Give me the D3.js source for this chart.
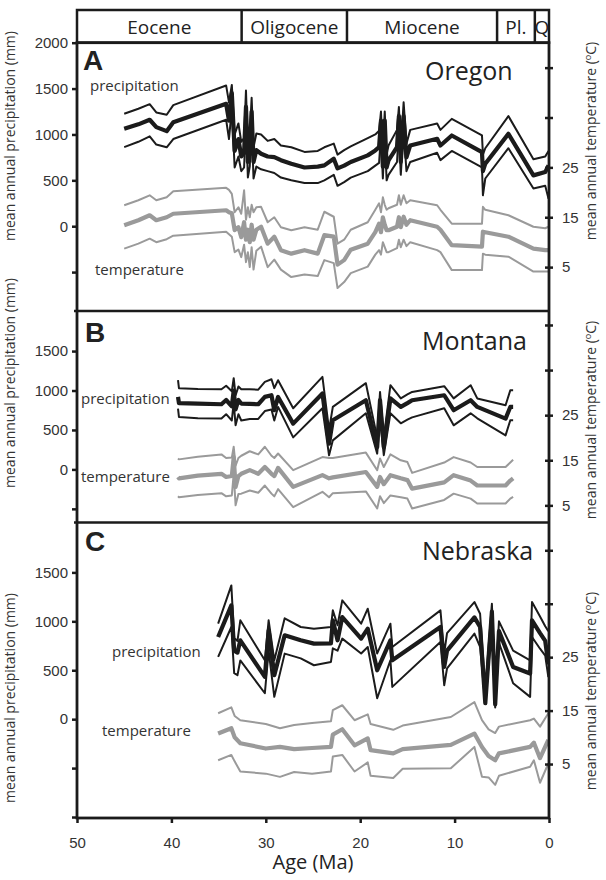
<!DOCTYPE html>
<html><head><meta charset="utf-8">
<script src="https://cdn.jsdelivr.net/npm/d3@7"></script>
<style>body{margin:0;background:#fff}svg{display:block}</style>
</head><body><svg id="c" width="606" height="880"></svg>
<script>
// ---------------- DATA ----------------
const xTickValues = [50, 40, 30, 20, 10, 0];
const epochNames = ["Eocene", "Oligocene", "Miocene", "Pl.", "Q"];
const epochBounds = [50, 32.56, 21.4, 5.5, 1.5, 0];

// Oregon
const oregonAge = [45.0,43.5,42.3,41.6,40.5,39.8,34.2,33.9,33.6,33.3,32.9,32.6,32.3,32.1,31.9,31.7,31.5,31.3,31.0,30.5,29.8,29.1,28.4,27.3,25.9,24.5,23.8,22.8,22.4,21.7,21.0,19.2,18.4,18.0,17.8,17.6,17.4,17.2,17.0,16.1,15.9,15.7,15.4,15.1,14.7,11.85,11.5,10.3,7.1,7.0,6.75,4.3,1.65,0.4,0.05];
const oregonPrecip   = [1062,1110,1160,1080,1036,1134,1334,1150,1450,820,950,760,800,1300,700,820,1250,700,830,790,760,753,720,681,640,650,663,736,630,660,700,772,826,862,1150,650,1150,640,717,862,1200,700,1200,750,880,953,880,989,808,600,681,1007,554,590,663];
const oregonPrecipHi = [1225,1280,1330,1240,1215,1320,1533,1350,1540,1000,1120,920,960,1480,850,990,1400,860,1010,1000,930,950,880,860,810,820,860,900,780,830,870,960,1000,1040,1250,800,1250,780,880,1050,1300,850,1350,900,1050,1120,1050,1170,990,780,850,1200,730,760,820];
const oregonPrecipLo = [862,920,980,890,860,950,1160,950,1280,640,760,600,640,1150,530,650,1100,520,650,620,600,580,530,500,470,470,500,560,440,480,530,600,660,690,1000,520,980,500,560,700,1050,560,1050,600,700,800,720,820,640,337,520,850,410,440,300];
const oregonTemp   = [13.4,14.4,15.4,14.4,15.0,15.7,16.4,16.0,15.8,12.4,13.0,11.0,14.0,10.5,12.5,10.0,13.5,10.5,12.5,13.1,9.7,11.1,8.4,7.7,8.4,7.7,11.4,11.1,5.5,6.4,8.5,9.7,12.0,13.7,12.0,15.0,13.5,12.4,12.4,13.1,15.0,13.0,15.1,13.5,14.4,13.1,12.5,9.4,9.1,12.1,12.0,11.1,8.7,8.4,8.4];
const oregonTempHi = [17.4,18.4,19.4,18.4,19.0,20.2,20.9,20.5,19.7,16.0,17.0,15.7,20.4,14.5,17.0,15.0,17.5,16.0,17.0,17.1,14.0,15.0,13.0,12.4,13.0,12.5,16.1,15.1,9.7,10.5,12.5,14.0,16.5,17.8,16.0,19.0,17.5,16.5,16.8,17.5,19.4,17.5,19.4,17.8,18.4,17.4,16.5,13.7,13.7,17.1,16.5,15.4,13.1,12.8,13.1];
const oregonTempLo = [8.7,9.7,10.7,10.0,10.6,11.3,12.1,11.6,11.1,8.0,8.5,7.0,9.5,6.0,8.0,5.0,9.0,4.5,8.3,9.1,5.0,6.5,4.5,3.0,3.5,3.2,6.4,5.8,0.8,2.0,3.8,5.1,7.5,8.4,7.5,10.0,9.0,8.0,8.0,8.8,10.5,9.0,10.5,9.2,10.0,8.4,8.0,4.4,4.4,7.7,7.5,7.1,4.1,4.1,4.1];

// Montana
const montanaAge = [39.3,39.2,37.2,34.7,34.2,33.6,33.4,33.2,32.9,32.6,31.7,30.8,30.1,29.4,29.1,28.7,27.1,24.0,23.3,22.9,19.4,18.2,17.9,17.5,16.8,15.7,15.0,14.5,11.1,10.1,8.3,7.6,4.6,4.1,3.8];
const montanaPrecip   = [919,840,835,826,880,800,1000,760,880,835,830,826,919,940,750,919,580,962,326,623,877,283,877,283,900,792,840,877,940,750,877,792,644,792,792];
const montanaPrecipHi = [1131,1029,1020,1016,1060,990,1156,940,1050,1016,1016,1010,1110,1143,1030,1131,775,1173,500,792,1093,400,982,400,1067,900,950,982,1055,900,1067,900,813,1004,1004];
const montanaPrecipLo = [771,665,650,644,700,620,850,560,700,620,640,640,740,760,620,792,406,775,178,368,711,200,650,180,711,584,630,660,775,559,711,648,432,623,623];
const montanaTemp   = [11.3,11.0,11.6,12.0,11.3,11.5,15.7,9.1,11.5,12.0,12.8,12.0,13.5,12.0,11.5,13.3,9.1,11.7,11.0,11.2,12.4,9.1,11.3,9.7,11.7,11.0,10.6,8.7,10.1,11.7,10.5,9.4,9.4,10.5,11.0];
const montanaTempHi = [15.4,15.2,15.8,16.3,15.5,15.6,18.0,13.8,15.5,16.0,17.0,16.3,18.0,16.0,15.5,16.5,12.8,15.7,15.5,15.5,16.7,12.8,15.4,13.5,16.3,15.0,14.6,12.2,14.5,15.7,14.5,13.5,13.5,14.5,15.1];
const montanaTempLo = [7.0,6.8,7.3,7.7,7.0,7.2,12.0,5.0,7.5,7.6,8.3,7.8,9.4,7.6,7.0,8.6,4.6,8.0,6.8,7.7,8.1,4.3,7.0,5.5,7.2,6.8,6.5,4.3,6.2,7.6,6.5,5.4,5.4,6.5,6.9];

// Nebraska
const nebraskaPrecipAge = [35.05,33.65,33.35,33.0,32.7,30.1,29.7,29.1,28.0,26.3,24.9,23.1,22.9,22.4,21.9,19.9,19.2,18.2,16.8,16.6,11.5,11.1,10.8,7.9,7.3,6.75,6.05,5.7,5.3,3.8,2.0,1.8,0.95,0.4,0.07];
const nebraskaPrecip   = [840,1163,700,680,806,432,908,449,857,806,772,775,1010,806,1044,823,925,500,806,602,942,534,700,1040,942,163,1100,150,900,534,466,1010,880,800,560];
const nebraskaPrecipHi = [976,1367,830,800,1010,602,1010,602,1031,942,925,942,1112,960,1214,976,1129,672,976,738,1112,672,880,1197,1078,300,1180,300,1000,700,602,1197,1050,950,900];
const nebraskaPrecipLo = [636,942,470,450,600,265,700,228,670,621,551,585,724,700,823,672,738,214,602,330,789,347,520,874,738,160,950,120,780,367,228,840,720,650,430];
const nebraskaTempAge = [35.05,33.65,33.3,32.7,30.0,28.5,27.0,25.1,23.1,22.9,21.9,20.6,19.2,18.9,16.5,15.5,10.4,7.9,7.1,6.4,5.7,5.3,2.0,1.6,0.95,0.07];
const nebraskaTemp   = [10.7,11.7,10.0,8.9,7.9,8.2,7.8,8.0,8.2,10.5,11.5,8.5,9.8,7.6,7.0,7.8,8.6,10.7,8.2,6.5,5.7,7.0,8.2,9.0,6.1,9.5];
const nebraskaTempHi = [14.5,15.6,14.0,13.2,12.5,11.7,12.3,12.7,13.0,15.1,16.0,13.2,14.3,12.5,11.4,12.2,13.8,16.6,13.2,11.5,10.8,12.0,13.2,13.5,12.0,14.5];
const nebraskaTempLo = [5.7,6.7,5.5,3.6,3.2,2.6,3.5,3.2,3.6,6.4,6.7,3.6,5.3,2.8,2.4,4.1,4.2,8.2,2.6,2.5,1.1,2.8,4.5,5.7,1.5,5.1];

// ---------------- LAYOUT ----------------
const W = 606, H = 880;
const L = 77, R = 549, TOP = 42.7, BOT = 818, HEAD_TOP = 10;
const BLACK = "#1b1b1b", GRAY = "#9a9a9a";
const SANS = "'Open Sans', 'Noto Sans', sans-serif";
const ARIAL = "'Liberation Sans', Arial, sans-serif";

const panels = [
  {letter:"A", name:"Oregon", top:TOP, bottom:311, pDom:[-924,2000], tDom:[-3.8,50],
   pTicks:[-500,0,500,1000,1500,2000], tTicks:[5,15,25,35,45],
   pAge:oregonAge, p:oregonPrecip, pHi:oregonPrecipHi, pLo:oregonPrecipLo,
   tAge:oregonAge, t:oregonTemp, tHi:oregonTempHi, tLo:oregonTempLo,
   lay:{lx:83, ly:70, nx:425, ny:80, px:90, py:91, tx:95, ty:275, lc:136, rc:141}},
  {letter:"B", name:"Montana", top:311, bottom:522.5, pDom:[-673,2008], tDom:[1.2,48.1],
   pTicks:[-500,0,500,1000,1500], tTicks:[5,15,25,35,45],
   pAge:montanaAge, p:montanaPrecip, pHi:montanaPrecipHi, pLo:montanaPrecipLo,
   tAge:montanaAge, t:montanaTemp, tHi:montanaTempHi, tLo:montanaTempLo,
   lay:{lx:85, ly:342, nx:422, ny:350, px:81, py:404, tx:81, ty:482, lc:383, rc:420}},
  {letter:"C", name:"Nebraska", top:522.5, bottom:BOT, pDom:[-1010,2010], tDom:[-5.1,50.2],
   pTicks:[-1000,-500,0,500,1000,1500], tTicks:[5,15,25,35,45],
   pAge:nebraskaPrecipAge, p:nebraskaPrecip, pHi:nebraskaPrecipHi, pLo:nebraskaPrecipLo,
   tAge:nebraskaTempAge, t:nebraskaTemp, tHi:nebraskaTempHi, tLo:nebraskaTempLo,
   lay:{lx:85, ly:551, nx:422, ny:560, px:112, py:657, tx:102, ty:736, lc:698, rc:691}}
];

const svg = d3.select("#c");
svg.append("rect").attr("width", W).attr("height", H).attr("fill", "#fff");

const x = d3.scaleLinear().domain([50, 0]).range([L, R]);

// ---------------- HEADER ----------------
const head = svg.append("g");
head.append("rect").attr("x", L).attr("y", HEAD_TOP).attr("width", R - L).attr("height", TOP - HEAD_TOP)
  .attr("fill", "none").attr("stroke", BLACK).attr("stroke-width", 2.5);
epochBounds.slice(1, -1).forEach(b => {
  head.append("line").attr("x1", x(b)).attr("x2", x(b)).attr("y1", HEAD_TOP).attr("y2", TOP)
    .attr("stroke", BLACK).attr("stroke-width", 2.5);
});
epochNames.forEach((n, i) => {
  head.append("text").attr("x", (x(epochBounds[i]) + x(epochBounds[i + 1])) / 2).attr("y", 34)
    .attr("text-anchor", "middle").attr("font-family", SANS).attr("font-size", 19).attr("fill", "#222").text(n);
});

// ---------------- PANELS ----------------
panels.forEach(pn => {
  const yP = d3.scaleLinear().domain(pn.pDom).range([pn.bottom, pn.top]);
  const yT = d3.scaleLinear().domain(pn.tDom).range([pn.bottom, pn.top]);
  const g = svg.append("g");
  const clipId = "clip" + pn.letter;
  svg.append("clipPath").attr("id", clipId).append("rect")
    .attr("x", L).attr("y", pn.top).attr("width", R - L).attr("height", pn.bottom - pn.top);

  const lines = g.append("g").attr("clip-path", `url(#${clipId})`);
  const mk = (ages, vals, ys) => d3.line().x((d, i) => x(ages[i])).y(d => ys(d))(vals);

  // temperature (right axis)
  [[pn.tHi, 2], [pn.tLo, 2], [pn.t, 4.2]].forEach(([arr, w]) => {
    lines.append("path").attr("d", mk(pn.tAge, arr, yT)).attr("fill", "none")
      .attr("stroke", GRAY).attr("stroke-width", w).attr("stroke-linejoin", "round");
  });
  // precipitation (left axis)
  [[pn.pHi, 2], [pn.pLo, 2], [pn.p, 4.2]].forEach(([arr, w]) => {
    lines.append("path").attr("d", mk(pn.pAge, arr, yP)).attr("fill", "none")
      .attr("stroke", BLACK).attr("stroke-width", w).attr("stroke-linejoin", "round");
  });

  // left axis
  const la = g.append("g").attr("transform", `translate(${L},0)`)
    .call(d3.axisLeft(yP).tickValues(pn.pTicks).tickSize(5).tickPadding(4)
      .tickFormat(d => d >= 0 ? d : ""));
  la.select(".domain").remove();
  la.selectAll(".tick line").attr("stroke", BLACK).attr("stroke-width", 2.5);
  la.selectAll(".tick text").attr("font-family", ARIAL).attr("font-size", 15).attr("fill", "#333");

  // right axis (ticks crossing the axis)
  const ra = g.append("g").attr("transform", `translate(${R},0)`)
    .call(d3.axisRight(yT).tickValues(pn.tTicks).tickSize(4).tickPadding(9)
      .tickFormat(d => d <= 25 ? d : ""));
  ra.select(".domain").remove();
  ra.selectAll(".tick line").attr("x1", -4).attr("stroke", BLACK).attr("stroke-width", 2.5);
  ra.selectAll(".tick text").attr("font-family", ARIAL).attr("font-size", 15).attr("fill", "#333");

  // labels
  const ly = pn.lay;
  g.append("text").attr("x", ly.lx).attr("y", ly.ly).attr("font-family", ARIAL).attr("font-weight", "bold")
    .attr("font-size", 28).attr("fill", "#222").text(pn.letter);
  g.append("text").attr("x", ly.nx).attr("y", ly.ny).attr("font-family", SANS).attr("font-size", 25)
    .attr("fill", "#222").text(pn.name);
  g.append("text").attr("x", ly.px).attr("y", ly.py).attr("font-family", SANS).attr("font-size", 15)
    .attr("fill", "#333").text("precipitation");
  g.append("text").attr("x", ly.tx).attr("y", ly.ty).attr("font-family", SANS).attr("font-size", 15)
    .attr("fill", "#333").text("temperature");

  svg.append("text").attr("transform", `translate(15,${ly.lc}) rotate(-90)`).attr("text-anchor", "middle")
    .attr("font-family", SANS).attr("font-size", 14).attr("fill", "#333")
    .text("mean annual precipitation (mm)");
  const rt = svg.append("text").attr("transform", `translate(596,${ly.rc}) rotate(-90)`).attr("text-anchor", "middle")
    .attr("font-family", SANS).attr("font-size", 14).attr("fill", "#333");
  rt.append("tspan").text("mean annual temperature (");
  rt.append("tspan").attr("font-size", 9).attr("dy", -5).text("o");
  rt.append("tspan").attr("dy", 5).text("C)");
});

// panel separators & frame
[311, 522.5].forEach(yv => {
  svg.append("line").attr("x1", L - 3).attr("x2", R).attr("y1", yv).attr("y2", yv)
    .attr("stroke", BLACK).attr("stroke-width", 2.5);
});
svg.append("rect").attr("x", L).attr("y", TOP).attr("width", R - L).attr("height", BOT - TOP)
  .attr("fill", "none").attr("stroke", BLACK).attr("stroke-width", 2.8);

// x axis
const xa = svg.append("g").attr("transform", `translate(0,${BOT})`)
  .call(d3.axisBottom(x).tickValues(xTickValues).tickSize(5).tickPadding(14).tickFormat(d3.format("d")));
xa.select(".domain").remove();
xa.selectAll(".tick line").attr("stroke", BLACK).attr("stroke-width", 2.5);
xa.selectAll(".tick text").attr("font-family", ARIAL).attr("font-size", 15).attr("fill", "#333");
svg.append("text").attr("x", (L + R) / 2).attr("y", 869).attr("text-anchor", "middle")
  .attr("font-family", SANS).attr("font-size", 20).attr("fill", "#222").text("Age (Ma)");
</script></body></html>
